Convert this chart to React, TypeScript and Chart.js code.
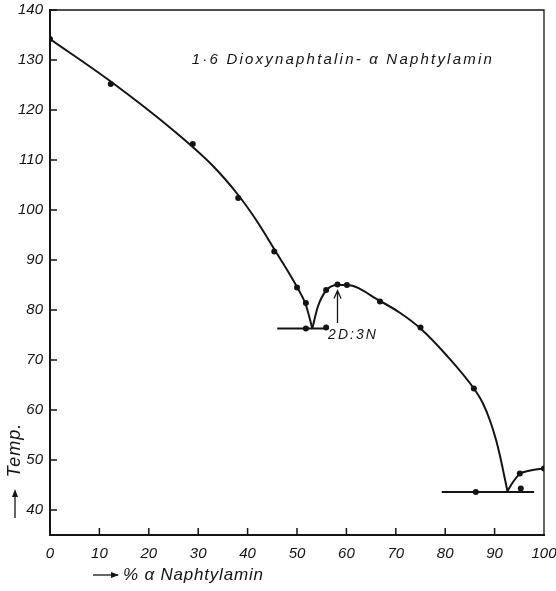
import React, { useEffect, useRef } from 'react';
import { Chart, registerables } from 'chart.js';

Chart.register(...registerables);

// Measured points (% α-Naphtylamin, temperature)
const pointX = [0, 12.3, 28.9, 38.1, 45.4, 50.0, 51.8, 51.8, 55.9, 55.9, 58.2, 60.1, 66.8, 75.0, 85.8, 86.2, 95.1, 100, 95.3];
const pointY = [134.2, 125.2, 113.2, 102.4, 91.7, 84.5, 81.4, 76.3, 76.5, 84.0, 85.1, 85.0, 81.7, 76.5, 64.3, 43.6, 47.3, 48.3, 44.3];

// Liquidus curve branches
const leftCurveX = [0, 12.3, 25.0, 33.0, 38.1, 41.8, 45.5, 50.0, 51.8, 53.1];
const leftCurveY = [134.2, 125.7, 115.9, 108.8, 103.0, 97.9, 92.0, 84.6, 81.0, 76.3];
const midCurveX = [53.1, 54.2, 55.9, 58.2, 60.1, 66.8, 70.9, 75.0, 80.3, 85.8, 87.6, 89.1, 90.3, 91.1, 92.0, 92.6];
const midCurveY = [76.3, 80.6, 83.9, 85.0, 85.0, 81.8, 79.4, 76.3, 70.9, 64.3, 61.4, 57.8, 54.0, 50.8, 46.6, 43.8];
const tailCurveX = [92.6, 93.8, 95.1, 97.2, 100];
const tailCurveY = [43.8, 45.7, 47.2, 47.9, 48.3];

// Eutectic horizontals
const eut1X = [46.0, 56.3];
const eut1Y = [76.3, 76.3];
const eut2X = [79.3, 98.0];
const eut2Y = [43.6, 43.6];

// Compound marker (2D:3N)
const compoundX = 58.2;
const compoundFrom = 77.4;
const compoundTo = 83.9;
const compoundLabel = '2D:3N';

const xTicks = [0, 10, 20, 30, 40, 50, 60, 70, 80, 90, 100];
const yTicks = [40, 50, 60, 70, 80, 90, 100, 110, 120, 130, 140];

const chartTitle = '1·6 Dioxynaphtalin- α Naphtylamin';
const xTitle = '% α Naphtylamin';
const yTitle = 'Temp.';

const INK = '#141414';
const FONT = "'Liberation Sans', Arial, sans-serif";

const toXY = (xs: number[], ys: number[]) => xs.map((v, i) => ({ x: v, y: ys[i] }));

const decor = {
  id: 'decor',
  afterDraw(chart: any) {
    const { ctx, chartArea: a, scales } = chart;
    const x = scales.x;
    const y = scales.y;
    ctx.save();
    ctx.strokeStyle = INK;
    ctx.fillStyle = INK;
    // top & right frame
    ctx.lineWidth = 1.3;
    ctx.beginPath();
    ctx.moveTo(a.left, a.top);
    ctx.lineTo(a.right, a.top);
    ctx.lineTo(a.right, a.bottom);
    ctx.stroke();
    // inward ticks
    ctx.lineWidth = 1.5;
    ctx.beginPath();
    yTicks.forEach((v) => {
      const py = y.getPixelForValue(v);
      ctx.moveTo(a.left, py);
      ctx.lineTo(a.left + 7, py);
    });
    xTicks.slice(1, -1).forEach((v) => {
      const px = x.getPixelForValue(v);
      ctx.moveTo(px, a.bottom);
      ctx.lineTo(px, a.bottom - 7);
    });
    ctx.stroke();

    // compound arrow
    const ax = x.getPixelForValue(compoundX);
    const ay0 = y.getPixelForValue(compoundFrom);
    const ay1 = y.getPixelForValue(compoundTo);
    ctx.lineWidth = 1.3;
    ctx.beginPath();
    ctx.moveTo(ax, ay0);
    ctx.lineTo(ax, ay1);
    ctx.moveTo(ax - 3.5, ay1 + 8);
    ctx.lineTo(ax, ay1);
    ctx.lineTo(ax + 3.5, ay1 + 8);
    ctx.stroke();

    // compound label
    ctx.font = `italic 14px ${FONT}`;
    ctx.textAlign = 'left';
    ctx.textBaseline = 'middle';
    (ctx as any).letterSpacing = '2px';
    ctx.fillText(compoundLabel, x.getPixelForValue(56.3), y.getPixelForValue(74.9));

    // chart title, stretched to its width in the figure
    ctx.font = `italic 15px ${FONT}`;
    (ctx as any).letterSpacing = '0px';
    const tw = ctx.measureText(chartTitle).width;
    const target = 300;
    (ctx as any).letterSpacing = `${(target - tw) / (chartTitle.length - 1)}px`;
    ctx.fillText(chartTitle, x.getPixelForValue(28.7), y.getPixelForValue(130));

    // x title with arrow
    const ty = 575;
    ctx.lineWidth = 1.3;
    ctx.beginPath();
    ctx.moveTo(93, ty);
    ctx.lineTo(118, ty);
    ctx.stroke();
    ctx.beginPath();
    ctx.moveTo(119, ty);
    ctx.lineTo(111, ty - 3);
    ctx.lineTo(111, ty + 3);
    ctx.closePath();
    ctx.fill();
    ctx.font = `italic 17px ${FONT}`;
    (ctx as any).letterSpacing = '0.8px';
    ctx.textAlign = 'left';
    ctx.fillText(xTitle, 123, ty);

    // y title with arrow
    const tx = 15;
    ctx.beginPath();
    ctx.moveTo(tx, 518);
    ctx.lineTo(tx, 492);
    ctx.stroke();
    ctx.beginPath();
    ctx.moveTo(tx, 489);
    ctx.lineTo(tx - 3, 497);
    ctx.lineTo(tx + 3, 497);
    ctx.closePath();
    ctx.fill();
    ctx.translate(tx, 450);
    ctx.rotate(-Math.PI / 2);
    ctx.font = `italic 18px ${FONT}`;
    (ctx as any).letterSpacing = '1px';
    ctx.textAlign = 'center';
    ctx.textBaseline = 'middle';
    ctx.fillText(yTitle, 0, 0);
    ctx.restore();
  },
};

export default function App() {
  const ref = useRef<HTMLCanvasElement | null>(null);

  useEffect(() => {
    if (!ref.current) return;
    const lineDs = (label: string, xs: number[], ys: number[], width: number) => ({
      label,
      data: toXY(xs, ys),
      showLine: true,
      borderColor: INK,
      borderWidth: width,
      pointRadius: 0,
      fill: false,
      cubicInterpolationMode: 'monotone' as const,
    });
    const chart = new Chart(ref.current, {
      type: 'scatter',
      data: {
        datasets: [
          lineDs('left', leftCurveX, leftCurveY, 2),
          lineDs('mid', midCurveX, midCurveY, 2),
          lineDs('tail', tailCurveX, tailCurveY, 2),
          lineDs('eut1', eut1X, eut1Y, 2),
          lineDs('eut2', eut2X, eut2Y, 2.2),
          {
            label: 'points',
            data: toXY(pointX, pointY),
            pointRadius: 3,
            pointBackgroundColor: INK,
            pointBorderColor: INK,
            borderWidth: 0,
            showLine: false,
          },
        ],
      },
      options: {
        responsive: false,
        animation: false,
        layout: { padding: { top: 10, right: 12, left: 0, bottom: 0 } },
        plugins: { legend: { display: false }, tooltip: { enabled: false }, title: { display: false } },
        scales: {
          x: {
            type: 'linear',
            min: 0,
            max: 100,
            afterBuildTicks: (s: any) => {
              s.ticks = xTicks.map((v) => ({ value: v }));
            },
            afterFit: (s: any) => {
              s.height = 56;
              s.paddingLeft = 0;
              s.paddingRight = 0;
            },
            grid: { display: false, drawTicks: false, tickLength: 0 },
            border: { display: true, color: INK, width: 2 },
            ticks: {
              color: INK,
              padding: 10,
              maxRotation: 0,
              font: { family: FONT, style: 'italic', size: 15 },
            },
          },
          y: {
            type: 'linear',
            min: 35,
            max: 140,
            afterBuildTicks: (s: any) => {
              s.ticks = yTicks.map((v) => ({ value: v }));
            },
            afterFit: (s: any) => {
              s.width = 50;
              s.paddingTop = 0;
              s.paddingBottom = 0;
            },
            grid: { display: false, drawTicks: false, tickLength: 0 },
            border: { display: true, color: INK, width: 2 },
            ticks: {
              color: INK,
              padding: 7,
              font: { family: FONT, style: 'italic', size: 15 },
            },
          },
        },
      },
      plugins: [decor],
    });
    return () => chart.destroy();
  }, []);

  return (
    <div style={{ position: 'fixed', left: 0, top: 0, width: 556, height: 591, background: '#fff' }}>
      <canvas ref={ref} width={556} height={591} style={{ display: 'block' }} />
    </div>
  );
}
